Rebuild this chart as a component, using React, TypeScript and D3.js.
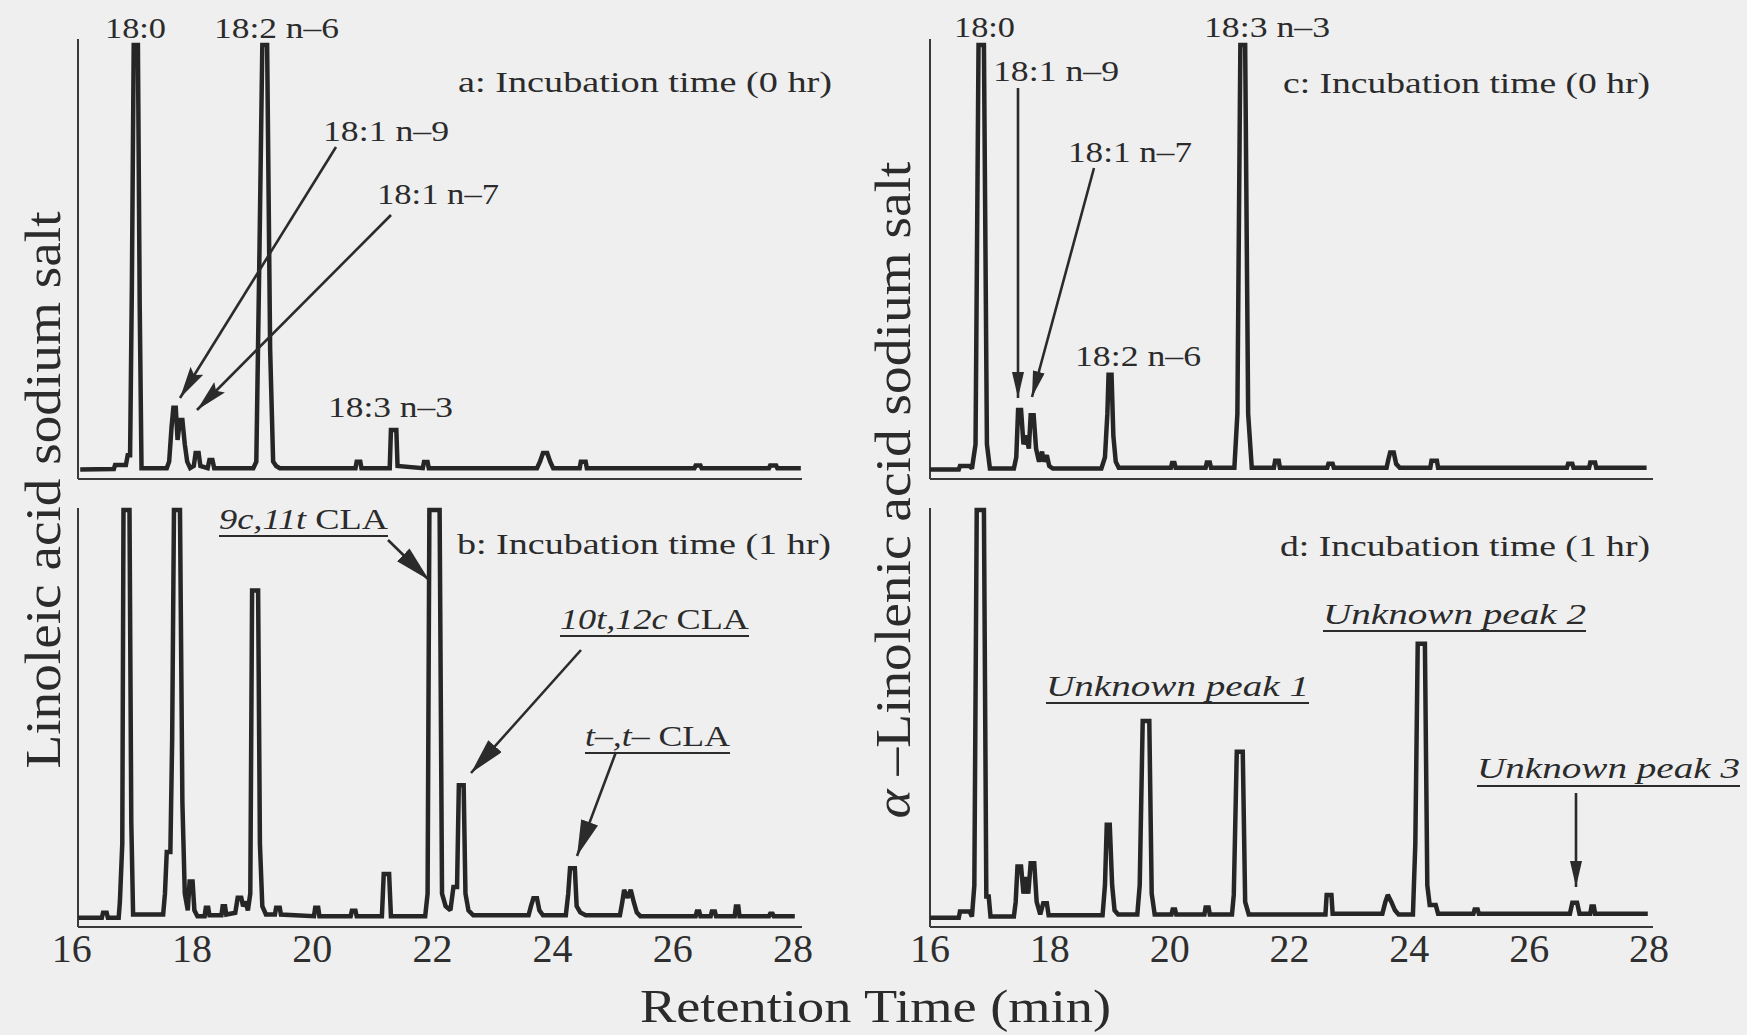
import React from "react";
import * as d3 from "d3";

const W = 1747;
const H = 1035;

// Retention time axis (min)
const xDomain: [number, number] = [16, 28];
const xTicks = [16, 18, 20, 22, 24, 26, 28];

// Chromatogram traces: [retention time (min), detector response (% of full scale)]
// a: Linoleic acid sodium salt, 0 hr
const traceA: [number, number][] = [
  [16.14, 2.2], [16.7, 2.3], [16.72, 3.2], [16.9, 3.2], [16.93, 5.5], [16.97, 5.5], [17.0, 45], [17.03, 100],
  [17.1, 100], [17.13, 40], [17.16, 2.5], [17.58, 2.5], [17.62, 4], [17.66, 12], [17.69, 16.4], [17.73, 16.4],
  [17.76, 9], [17.8, 13.6], [17.84, 13.6], [17.88, 8], [17.92, 4], [17.97, 2.5], [18.03, 3], [18.06, 6],
  [18.11, 6], [18.14, 3], [18.26, 2.5], [18.29, 4.4], [18.34, 4.4], [18.37, 2.5], [19.02, 2.5], [19.07, 4],
  [19.12, 50], [19.17, 100], [19.25, 100], [19.3, 30], [19.35, 4], [19.4, 3], [19.46, 2.5], [20.72, 2.5],
  [20.74, 4.0], [20.8, 4.0], [20.82, 2.5], [21.29, 2.5], [21.31, 11.3], [21.4, 11.3], [21.42, 3], [21.84, 2.5],
  [21.86, 3.9], [21.92, 3.9], [21.94, 2.5], [23.74, 2.5], [23.79, 4], [23.84, 6], [23.91, 6], [23.96, 4],
  [24.01, 2.5], [24.45, 2.5], [24.47, 4.0], [24.55, 4.0], [24.57, 2.5], [26.36, 2.5], [26.38, 3.1], [26.46, 3.1],
  [26.48, 2.5], [27.6, 2.5], [27.62, 3.1], [27.72, 3.1], [27.74, 2.5], [28.13, 2.5],
];

// b: Linoleic acid sodium salt, 1 hr
const traceB: [number, number][] = [
  [16.11, 2.2], [16.5, 2.2], [16.52, 3.4], [16.58, 3.4], [16.6, 2.2], [16.78, 2.2], [16.8, 6], [16.84, 20],
  [16.86, 100], [16.96, 100], [16.99, 25], [17.02, 3], [17.52, 3], [17.55, 8], [17.58, 18], [17.64, 18],
  [17.67, 45], [17.7, 100], [17.8, 100], [17.84, 30], [17.88, 8], [17.93, 4], [17.96, 10.9], [18.01, 10.9],
  [18.04, 4], [18.09, 2.6], [18.21, 2.6], [18.23, 4.6], [18.27, 4.6], [18.29, 2.8], [18.49, 2.8], [18.51, 5],
  [18.55, 5], [18.57, 3], [18.72, 3.4], [18.76, 7], [18.82, 7], [18.85, 5], [18.89, 6.1], [18.93, 4],
  [18.97, 8], [19.0, 80.7], [19.1, 80.7], [19.13, 20], [19.17, 5], [19.23, 3], [19.38, 3], [19.4, 4.6],
  [19.46, 4.6], [19.48, 3], [20.03, 2.6], [20.05, 4.6], [20.1, 4.6], [20.12, 2.6], [20.64, 2.6], [20.66, 3.9],
  [20.72, 3.9], [20.74, 2.6], [21.16, 2.6], [21.19, 12.7], [21.28, 12.7], [21.31, 2.6], [21.88, 2.6], [21.92, 8],
  [21.95, 100], [22.12, 100], [22.16, 8], [22.22, 5], [22.3, 4], [22.35, 9.6], [22.41, 9.6], [22.44, 34],
  [22.52, 34], [22.55, 8], [22.6, 4], [22.68, 2.8], [23.6, 2.8], [23.64, 5], [23.68, 6.9], [23.74, 6.9],
  [23.78, 4], [23.84, 2.8], [24.22, 2.8], [24.26, 8], [24.29, 14.1], [24.37, 14.1], [24.4, 5], [24.46, 3.5],
  [24.55, 2.8], [25.12, 2.8], [25.16, 6], [25.19, 8.9], [25.25, 7], [25.3, 8.9], [25.35, 6], [25.4, 3.5],
  [25.46, 2.6], [26.38, 2.6], [26.4, 3.7], [26.44, 3.7], [26.46, 2.6], [26.63, 2.6], [26.65, 3.7], [26.7, 3.7],
  [26.72, 2.6], [27.03, 2.6], [27.05, 4.9], [27.09, 4.9], [27.11, 2.6], [27.6, 2.6], [27.62, 3.2], [27.66, 3.2],
  [27.68, 2.6], [28.03, 2.6],
];

// c: alpha-Linolenic acid sodium salt, 0 hr
const traceC: [number, number][] = [
  [16.0, 2.2], [16.48, 2.2], [16.5, 3.0], [16.66, 3.0], [16.7, 2.4], [16.76, 8], [16.81, 100], [16.9, 100],
  [16.95, 8], [17.0, 2.4], [17.4, 2.4], [17.44, 5], [17.47, 15.9], [17.52, 15.9], [17.56, 8], [17.6, 10],
  [17.65, 7], [17.68, 14.7], [17.73, 14.7], [17.77, 7], [17.82, 4], [17.87, 6.3], [17.9, 4], [17.95, 5.5],
  [17.99, 3], [18.05, 2.4], [18.86, 2.4], [18.92, 5], [18.96, 15], [18.98, 24], [19.03, 24], [19.06, 10],
  [19.1, 4], [19.15, 2.6], [20.02, 2.6], [20.04, 3.7], [20.08, 3.7], [20.1, 2.6], [20.6, 2.6], [20.62, 3.8],
  [20.67, 3.8], [20.69, 2.6], [21.08, 2.6], [21.13, 15], [21.18, 100], [21.26, 100], [21.31, 15], [21.37, 2.6],
  [21.74, 2.6], [21.76, 4.2], [21.82, 4.2], [21.84, 2.6], [22.63, 2.6], [22.65, 3.5], [22.72, 3.5], [22.74, 2.6],
  [23.62, 2.6], [23.65, 4.5], [23.68, 6.1], [23.74, 6.1], [23.78, 3.5], [23.84, 2.6], [24.35, 2.6], [24.37, 4.2],
  [24.46, 4.2], [24.48, 2.6], [26.63, 2.6], [26.65, 3.5], [26.72, 3.5], [26.74, 2.6], [27.0, 2.6], [27.02, 3.8],
  [27.1, 3.8], [27.12, 2.6], [27.96, 2.6],
];

// d: alpha-Linolenic acid sodium salt, 1 hr
const traceD: [number, number][] = [
  [16.0, 2.2], [16.48, 2.2], [16.5, 3.7], [16.66, 3.7], [16.7, 2.5], [16.74, 10], [16.78, 100], [16.9, 100],
  [16.94, 7.3], [16.98, 7.3], [17.01, 2.5], [17.4, 2.5], [17.43, 6], [17.46, 14.5], [17.52, 14.5], [17.56, 8],
  [17.6, 12], [17.64, 8], [17.68, 15.3], [17.74, 15.3], [17.78, 6], [17.84, 3], [17.89, 5.7], [17.95, 5.7],
  [17.98, 2.8], [18.88, 2.8], [18.92, 10], [18.95, 24.5], [19.0, 24.5], [19.04, 10], [19.08, 4], [19.14, 3],
  [19.46, 3], [19.5, 10], [19.55, 49.4], [19.66, 49.4], [19.7, 8], [19.75, 3], [20.03, 3], [20.05, 4.2],
  [20.09, 4.2], [20.11, 3], [20.58, 3], [20.6, 4.7], [20.65, 4.7], [20.67, 3], [21.04, 3], [21.07, 7.7],
  [21.12, 42], [21.22, 42], [21.26, 6], [21.32, 3], [22.6, 3], [22.62, 7.7], [22.7, 7.7], [22.72, 3.2],
  [23.55, 3.2], [23.6, 6], [23.64, 7.7], [23.7, 6], [23.76, 4], [23.82, 3], [24.06, 3], [24.1, 20],
  [24.14, 67.9], [24.26, 67.9], [24.3, 10], [24.34, 5.3], [24.44, 5.3], [24.48, 3.2], [25.07, 3.2], [25.09, 4.2],
  [25.14, 4.2], [25.16, 3.2], [26.68, 3.2], [26.72, 5.8], [26.8, 5.8], [26.84, 3.2], [27.02, 3.2], [27.04, 4.9],
  [27.08, 4.9], [27.1, 3.2], [27.98, 3.2],
];

const INK = "#262626";
const FONT = "'Liberation Serif', 'Times New Roman', serif";

// layout
const cols = {
  left: { r0: 71.8, r1: 793, axisX: 78, axisEnd: 802 },
  right: { r0: 930, r1: 1649, axisX: 930, axisEnd: 1653 },
};
const rows = {
  top: { y0: 479, y100: 45, axisTop: 39 },
  bottom: { y0: 927, y100: 510, axisTop: 508 },
};

type Col = typeof cols.left;
type Row = typeof rows.top;

function Panel({ data, col, row, ticks }: { data: [number, number][]; col: Col; row: Row; ticks: boolean }) {
  const x = d3.scaleLinear().domain(xDomain).range([col.r0, col.r1]);
  const y = d3.scaleLinear().domain([0, 100]).range([row.y0, row.y100]);
  const line = d3
    .line<[number, number]>()
    .x((d) => x(d[0]))
    .y((d) => y(d[1]))
    .curve(d3.curveLinear);
  return (
    <g>
      <line x1={col.axisX} x2={col.axisX} y1={row.axisTop} y2={row.y0} stroke="#3a3a3a" strokeWidth={2} />
      <line x1={col.axisX} x2={col.axisEnd} y1={row.y0} y2={row.y0} stroke="#3a3a3a" strokeWidth={2} />
      <path d={line(data) || ""} fill="none" stroke={INK} strokeWidth={4.5} strokeLinejoin="miter" strokeMiterlimit={2} />
      {ticks &&
        xTicks.map((t) => (
          <text key={t} x={x(t)} y={962} textAnchor="middle" fontSize={40} fontFamily={FONT} fill="#2e2e2e">
            {t}
          </text>
        ))}
    </g>
  );
}

function T({ x0, x1, y, size = 30, children }: { x0: number; x1: number; y: number; size?: number; children: React.ReactNode }) {
  return (
    <text x={x0} y={y} fontSize={size} fontFamily={FONT} fill="#2b2b2b" textLength={x1 - x0} lengthAdjust="spacingAndGlyphs">
      {children}
    </text>
  );
}

function U({ x0, x1, y }: { x0: number; x1: number; y: number }) {
  return <line x1={x0} x2={x1} y1={y} y2={y} stroke="#2b2b2b" strokeWidth={1.8} />;
}

function Arrow({ x1, y1, x2, y2, head = "hA" }: { x1: number; y1: number; x2: number; y2: number; head?: string }) {
  return <line x1={x1} y1={y1} x2={x2} y2={y2} stroke="#2b2b2b" strokeWidth={2.6} markerEnd={`url(#${head})`} />;
}

export default function App() {
  return (
    <div style={{ position: "absolute", left: 0, top: 0 }}>
      <svg width={W} height={H} viewBox={`0 0 ${W} ${H}`} style={{ display: "block" }}>
        <defs>
          <marker id="hA" markerUnits="userSpaceOnUse" markerWidth={32} markerHeight={15} viewBox="0 0 32 15" refX={32} refY={7.5} orient="auto">
            <path d="M0,0 L32,7.5 L0,15 L5,7.5 Z" fill="#2b2b2b" />
          </marker>
          <marker id="hB" markerUnits="userSpaceOnUse" markerWidth={36} markerHeight={18} viewBox="0 0 36 18" refX={36} refY={9} orient="auto">
            <path d="M0,0 L36,9 L0,18 Z" fill="#2b2b2b" />
          </marker>
          <marker id="hC" markerUnits="userSpaceOnUse" markerWidth={26} markerHeight={12} viewBox="0 0 26 12" refX={26} refY={6} orient="auto">
            <path d="M0,0 L26,6 L0,12 Z" fill="#2b2b2b" />
          </marker>
        </defs>
        <rect x={0} y={0} width={W} height={H} fill="#efeff0" />

        <Panel data={traceA} col={cols.left} row={rows.top} ticks={false} />
        <Panel data={traceB} col={cols.left} row={rows.bottom} ticks={true} />
        <Panel data={traceC} col={cols.right} row={rows.top} ticks={false} />
        <Panel data={traceD} col={cols.right} row={rows.bottom} ticks={true} />

        {/* panel a */}
        <T x0={105} x1={166} y={38}>18:0</T>
        <T x0={214} x1={339} y={38}>18:2 n–6</T>
        <T x0={458} x1={832} y={92}>a: Incubation time (0 hr)</T>
        <T x0={323} x1={449} y={141}>18:1 n–9</T>
        <T x0={377} x1={499} y={204}>18:1 n–7</T>
        <T x0={328} x1={453} y={417}>18:3 n–3</T>
        <Arrow x1={336} y1={147} x2={180} y2={398} />
        <Arrow x1={391} y1={215} x2={197} y2={410} />

        {/* panel b */}
        <T x0={219} x1={388} y={529}>
          <tspan fontStyle="italic">9c,11t</tspan> CLA
        </T>
        <U x0={219} x1={388} y={536} />
        <T x0={457} x1={831} y={554}>b: Incubation time (1 hr)</T>
        <T x0={560} x1={749} y={629}>
          <tspan fontStyle="italic">10t,12c</tspan> CLA
        </T>
        <U x0={560} x1={749} y={636} />
        <T x0={585} x1={730} y={746}>
          <tspan fontStyle="italic">t–,t–</tspan> CLA
        </T>
        <U x0={585} x1={730} y={753} />
        <Arrow x1={388} y1={540} x2={429} y2={580} head="hB" />
        <Arrow x1={581} y1={650} x2={471} y2={773} head="hB" />
        <Arrow x1={616} y1={752} x2={577} y2={856} head="hB" />

        {/* panel c */}
        <T x0={954} x1={1015} y={37}>18:0</T>
        <T x0={1204} x1={1330} y={37}>18:3 n–3</T>
        <T x0={993} x1={1119} y={81}>18:1 n–9</T>
        <T x0={1283} x1={1650} y={93}>c: Incubation time (0 hr)</T>
        <T x0={1068} x1={1192} y={162}>18:1 n–7</T>
        <T x0={1075} x1={1201} y={366}>18:2 n–6</T>
        <Arrow x1={1018} y1={88} x2={1018} y2={398} head="hC" />
        <Arrow x1={1094} y1={168} x2={1032} y2={397} head="hC" />

        {/* panel d */}
        <T x0={1280} x1={1650} y={556}>d: Incubation time (1 hr)</T>
        <T x0={1323} x1={1586} y={624}>
          <tspan fontStyle="italic">Unknown peak 2</tspan>
        </T>
        <U x0={1323} x1={1586} y={631} />
        <T x0={1046} x1={1309} y={696}>
          <tspan fontStyle="italic">Unknown peak 1</tspan>
        </T>
        <U x0={1046} x1={1309} y={703} />
        <T x0={1477} x1={1740} y={778}>
          <tspan fontStyle="italic">Unknown peak 3</tspan>
        </T>
        <U x0={1477} x1={1740} y={786} />
        <Arrow x1={1576} y1={793} x2={1576} y2={887} head="hC" />

        {/* axis titles */}
        <text
          transform="translate(60,490) rotate(-90)"
          textAnchor="middle"
          fontSize={50}
          fontFamily={FONT}
          fill="#2b2b2b"
          textLength={557}
          lengthAdjust="spacingAndGlyphs"
        >
          Linoleic acid sodium salt
        </text>
        <text
          transform="translate(910,490) rotate(-90)"
          textAnchor="middle"
          fontSize={50}
          fontFamily={FONT}
          fill="#2b2b2b"
          textLength={657}
          lengthAdjust="spacingAndGlyphs"
        >
          <tspan fontStyle="italic">α</tspan> –Linolenic acid sodium salt
        </text>
        <T x0={640} x1={1111} y={1022} size={46}>
          Retention Time (min)
        </T>
      </svg>
    </div>
  );
}
